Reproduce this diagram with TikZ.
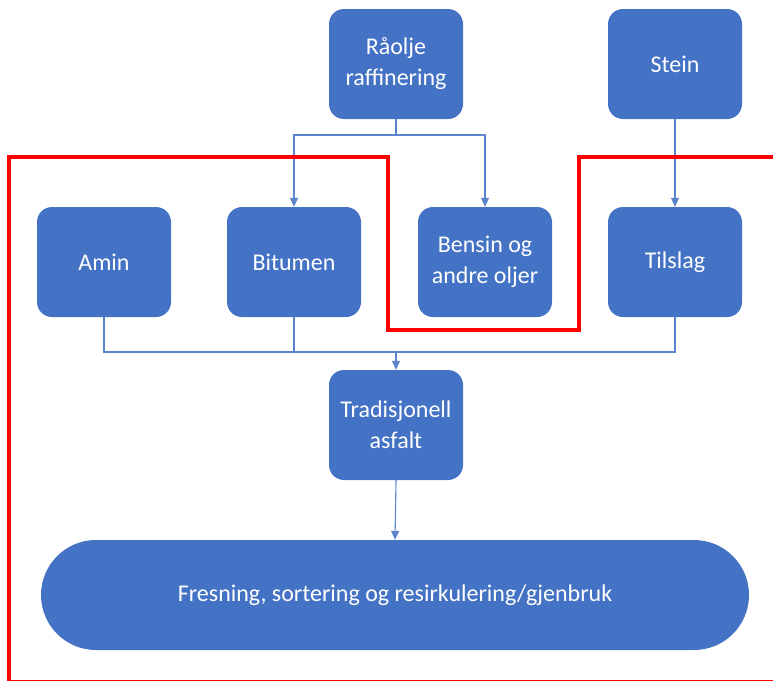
\documentclass[tikz,border=0pt]{standalone}
\usepackage{fontspec}
\setmainfont{Carlito}
\usetikzlibrary{arrows.meta}
\definecolor{boxblue}{HTML}{4472C4}
\definecolor{linkblue}{HTML}{5B84CC}
\definecolor{frame}{HTML}{FF0000}
\tikzset{
  stepbox/.style={fill=boxblue, draw=none, rounded corners=15pt,
    minimum width=134pt, minimum height=110pt, text=white,
    font=\fontsize{24}{31}\selectfont, align=center, inner sep=0pt},
  pillbox/.style={fill=boxblue, draw=none, rounded corners=55pt,
    minimum width=708pt, minimum height=110pt, text=white,
    font=\fontsize{24}{31}\selectfont, inner sep=0pt},
  link/.style={draw=linkblue, line width=1.1pt},
  linkarrow/.style={link, -{Triangle[length=9pt,width=8pt]}},
  redframe/.style={draw=frame, line width=3.2pt}
}
\begin{document}
\begin{tikzpicture}[x=1pt,y=-1pt]
\useasboundingbox (0,0) rectangle (773,680);
\clip (0,0) rectangle (773,680);

% process boxes
\node[stepbox] (raa) at (396,64) {Råolje\\raffinering};
\node[stepbox] (stein) at (675,64) {Stein};
\node[stepbox] (amin) at (104,262) {Amin};
\node[stepbox] (bit) at (294,262) {Bitumen};
\node[stepbox] (bens) at (485,262) {Bensin og\\andre oljer};
\node[stepbox] (till) at (675,262) {Tilslag};
\node[stepbox] (asf) at (396,425) {Tradisjonell\\asfalt};
\node[pillbox] (fres) at (395,595) {Fresning, sortering og resirkulering/gjenbruk};

% branch points
\coordinate (split) at (396,135);
\coordinate (join) at (396,352);

% refinery to bitumen and other oils
\draw[link] (raa.south) -- (split);
\draw[linkarrow] (split) -| (bit.north);
\draw[linkarrow] (split) -| (bens.north);

% stone to aggregate
\draw[linkarrow] (stein.south) -- (till.north);

% ingredients joined into asphalt
\draw[link] (amin.south) |- (join);
\draw[link] (bit.south) |- (join);
\draw[link] (till.south) |- (join);
\draw[linkarrow] (join) -- (asf.north);

% asphalt to recycling
\draw[linkarrow] (asf.south) -- (fres.north);

% red boundary
\draw[redframe] (780,157) -- (579,157) -- (579,330) -- (388,330) -- (388,157)
  -- (9,157) -- (9,681.2) -- (780,681.2);
\end{tikzpicture}
\end{document}
